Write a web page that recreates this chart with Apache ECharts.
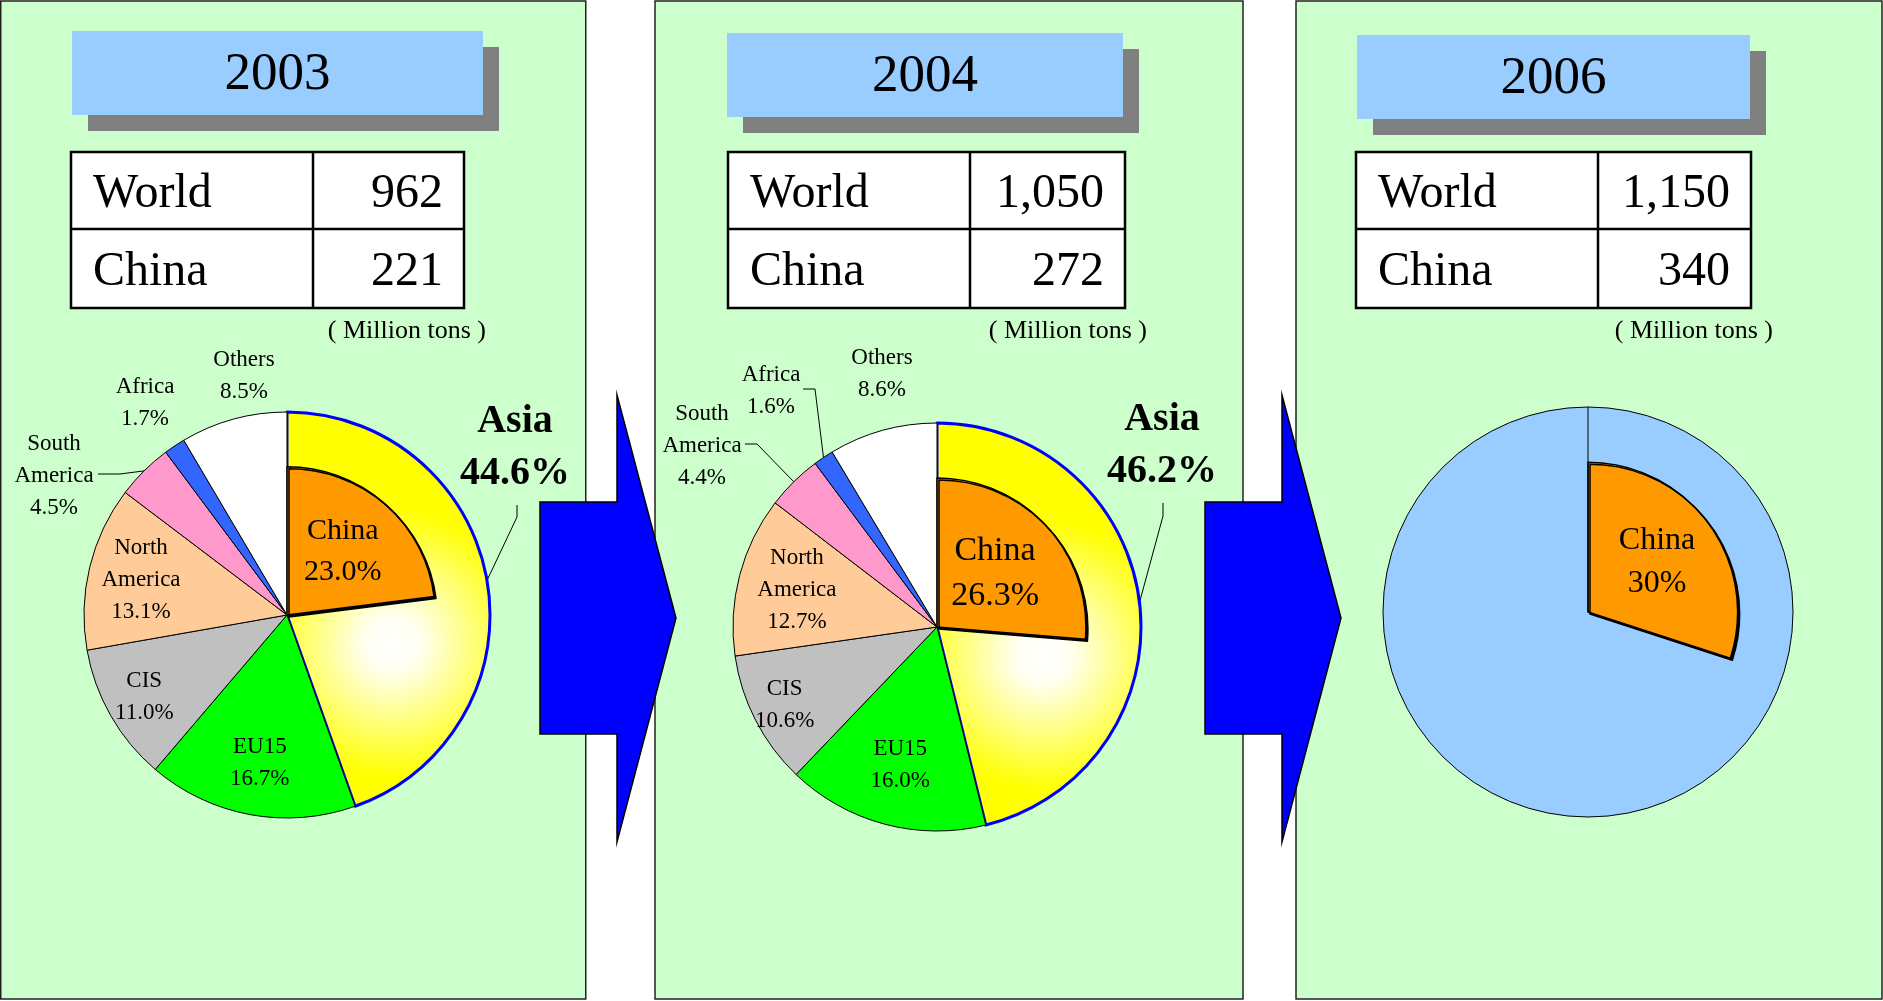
<!DOCTYPE html>
<html>
<head>
<meta charset="utf-8">
<title>Crude steel production</title>
<script src="https://cdn.jsdelivr.net/npm/echarts@6/dist/echarts.min.js"></script>
<style>
html, body { margin: 0; padding: 0; background: #fff; }
#main { width: 1883px; height: 1001px; }
</style>
</head>
<body>
<div id="main"></div>
<script>
// data
var years = ['2003', '2004', '2006'];
var worldOutput = [962, 1050, 1150];
var chinaOutput = [221, 272, 340];
var regions = ['Asia', 'EU15', 'CIS', 'North America', 'South America', 'Africa', 'Others'];
var share2003 = [44.6, 16.7, 11.0, 13.1, 4.5, 1.7, 8.5];
var share2004 = [46.2, 16.0, 10.6, 12.7, 4.4, 1.6, 8.6];
var chinaShare = [23.0, 26.3, 30];
var unitText = '( Million tons )';

var regionColors = ['#FFFF00', '#00FF00', '#C0C0C0', '#FFCC99', '#FF99CC', '#3366FF', '#FFFFFF'];
var FONT = '"Liberation Serif", "Times New Roman", serif';

// layout of the three panels (px)
var panels = [
    { x: 0.75, w: 585, box: [72, 31, 411], table: [71, 464, 313], pie: [287, 615, 203], chinaFont: 30, chinaR: 0.57 },
    { x: 655, w: 588, box: [727, 33, 396], table: [728, 1125, 970], pie: [937, 627, 204], chinaFont: 34, chinaR: 0.53 },
    { x: 1296, w: 586, box: [1357, 35, 393], table: [1356, 1751, 1598], pie: [1588, 612, 205], chinaFont: 32, chinaR: 0.57 }
];

// where each region label sits: r = fraction of radius at the slice middle, or dx/dy from the centre
var labelSpots = [
    {
        'Asia': { dx: 228, dy: -167, line: [[230, -110], [230, -98]] },
        'EU15': { r: 0.74 },
        'CIS': { r: 0.81 },
        'North America': { r: 0.74 },
        'South America': { dx: -233, dy: -139, line: [[-189, -141], [-167, -141]] },
        'Africa': { dx: -142, dy: -212 },
        'Others': { dx: -43, dy: -239 }
    },
    {
        'Asia': { dx: 225, dy: -181, line: [[226, -124], [226, -111]] },
        'EU15': { r: 0.70 },
        'CIS': { r: 0.84 },
        'North America': { r: 0.71 },
        'South America': { dx: -235, dy: -181, line: [[-192, -183], [-180, -183]] },
        'Africa': { dx: -166, dy: -236, line: [[-134, -238], [-122, -238]] },
        'Others': { dx: -55, dy: -253 }
    }
];

function midAngles(values) {
    var total = 0, acc = 0, mids = [];
    values.forEach(function (v) { total += v; });
    values.forEach(function (v) {
        mids.push((acc + v / 2) / total * Math.PI * 2);
        acc += v;
    });
    return mids;
}

function regionLayout(p, spots, values) {
    var mids = midAngles(values);
    var cx = p.pie[0], cy = p.pie[1], R = p.pie[2];
    return function (params) {
        var s = spots[regions[params.dataIndex]];
        var a = mids[params.dataIndex];
        var out = { align: 'center', verticalAlign: 'middle' };
        if (s.r) {
            out.x = cx + s.r * R * Math.sin(a);
            out.y = cy - s.r * R * Math.cos(a);
        } else {
            out.x = cx + s.dx;
            out.y = cy + s.dy;
        }
        if (s.line) {
            out.labelLinePoints = [
                [cx + s.line[0][0], cy + s.line[0][1]],
                [cx + s.line[1][0], cy + s.line[1][1]],
                [cx + R * Math.sin(a), cy - R * Math.cos(a)]
            ];
        }
        return out;
    };
}

function regionSeries(i, values) {
    var p = panels[i];
    var cx = p.pie[0], cy = p.pie[1], R = p.pie[2];
    var spots = labelSpots[i];
    var data = regions.map(function (name, k) {
        var item = {
            name: name,
            value: values[k],
            itemStyle: { color: regionColors[k], borderColor: '#000', borderWidth: 1 },
            labelLine: { show: !!spots[name].line }
        };
        if (name === 'Asia') {
            item.itemStyle = {
                color: {
                    type: 'radial', global: true,
                    x: cx + 0.52 * R, y: cy + 0.14 * R, r: 0.66 * R,
                    colorStops: [
                        { offset: 0, color: '#FFFFFF' },
                        { offset: 0.2, color: '#FFFFF2' },
                        { offset: 1, color: '#FFFF00' }
                    ]
                },
                borderColor: '#0000FF',
                borderWidth: 3
            };
            item.label = { fontSize: 40, fontWeight: 'bold', lineHeight: 52 };
        }
        return item;
    });
    return {
        type: 'pie',
        center: [cx, cy],
        radius: R,
        startAngle: 90,
        silent: true,
        avoidLabelOverlap: false,
        data: data,
        label: {
            show: true,
            position: 'outside',
            color: '#000',
            fontFamily: FONT,
            fontSize: 23,
            lineHeight: 32,
            formatter: function (prm) {
                return prm.name.replace(' ', '\n') + '\n' + prm.value.toFixed(1) + '%';
            }
        },
        labelLine: { show: false, lineStyle: { color: '#000', width: 1 } },
        labelLayout: regionLayout(p, spots, values),
        emphasis: { disabled: true }
    };
}

function chinaSeries(i) {
    var p = panels[i];
    var cx = p.pie[0], cy = p.pie[1], R = p.pie[2];
    var r = 0.73 * R;
    var share = chinaShare[i];
    var mid = share / 100 * Math.PI;
    return {
        type: 'pie',
        center: [cx, cy],
        radius: r,
        startAngle: 90,
        silent: true,
        z: 3,
        data: [
            {
                name: 'China', value: share,
                itemStyle: {
                    color: '#FF9900', borderColor: '#000', borderWidth: 1.5,
                    shadowColor: '#000', shadowOffsetX: 2, shadowOffsetY: 2, shadowBlur: 0
                }
            },
            { name: 'rest', value: 100 - share, itemStyle: { color: 'rgba(0,0,0,0)', borderWidth: 0 }, label: { show: false } }
        ],
        label: {
            show: true,
            position: 'inside',
            color: '#000',
            fontFamily: FONT,
            fontSize: p.chinaFont,
            lineHeight: p.chinaFont + 11,
            textBorderWidth: 0,
            formatter: function (prm) {
                var v = i < 2 ? prm.value.toFixed(1) : String(prm.value);
                return prm.name + '\n' + v + '%';
            }
        },
        labelLine: { show: false },
        labelLayout: function () {
            return {
                x: cx + p.chinaR * r * Math.sin(mid),
                y: cy - p.chinaR * r * Math.cos(mid),
                align: 'center', verticalAlign: 'middle'
            };
        },
        emphasis: { disabled: true }
    };
}

var series = [
    regionSeries(0, share2003),
    chinaSeries(0),
    regionSeries(1, share2004),
    chinaSeries(1),
    {
        type: 'pie',
        center: [panels[2].pie[0], panels[2].pie[1]],
        radius: panels[2].pie[2],
        silent: true,
        data: [{ name: 'World', value: 100 }],
        itemStyle: { color: '#99CCFF', borderColor: '#000', borderWidth: 1 },
        label: { show: false },
        labelLine: { show: false },
        emphasis: { disabled: true }
    },
    chinaSeries(2)
];

// panels, headers, tables, arrows
var graphics = [];
var tableTop = 152, tableMid = 229, tableBottom = 308;
panels.forEach(function (p, i) {
    graphics.push({
        type: 'rect', z: -1,
        shape: { x: p.x, y: 1, width: p.w, height: 998 },
        style: { fill: '#CCFFCC', stroke: '#222', lineWidth: 1.5 }
    });
    var bx = p.box[0], by = p.box[1], bw = p.box[2];
    graphics.push({
        type: 'rect', z: 1,
        shape: { x: bx + 16, y: by + 16, width: bw, height: 84 },
        style: { fill: '#808080' }
    });
    graphics.push({
        type: 'rect', z: 1,
        shape: { x: bx, y: by, width: bw, height: 84 },
        style: { fill: '#99CCFF' }
    });
    graphics.push({
        type: 'text', z: 2,
        style: {
            x: bx + bw / 2, y: by + 44, text: years[i],
            font: '53px ' + FONT, fill: '#000', textAlign: 'center', textVerticalAlign: 'middle'
        }
    });
    var tl = p.table[0], tr = p.table[1], tc = p.table[2];
    graphics.push({
        type: 'rect', z: 1,
        shape: { x: tl, y: tableTop, width: tr - tl, height: tableBottom - tableTop },
        style: { fill: '#FFFFFF', stroke: '#000', lineWidth: 2.5 }
    });
    graphics.push({
        type: 'line', z: 1,
        shape: { x1: tl, y1: tableMid, x2: tr, y2: tableMid },
        style: { stroke: '#000', lineWidth: 2.5 }
    });
    graphics.push({
        type: 'line', z: 1,
        shape: { x1: tc, y1: tableTop, x2: tc, y2: tableBottom },
        style: { stroke: '#000', lineWidth: 2.5 }
    });
    var rows = [['World', worldOutput[i]], ['China', chinaOutput[i]]];
    rows.forEach(function (row, k) {
        var yMid = k === 0 ? (tableTop + tableMid) / 2 : (tableMid + tableBottom) / 2;
        graphics.push({
            type: 'text', z: 2,
            style: {
                x: tl + 22, y: yMid + 4, text: row[0],
                font: '48px ' + FONT, fill: '#000', textAlign: 'left', textVerticalAlign: 'middle'
            }
        });
        graphics.push({
            type: 'text', z: 2,
            style: {
                x: tr - 21, y: yMid + 4, text: row[1].toLocaleString('en-US'),
                font: '48px ' + FONT, fill: '#000', textAlign: 'right', textVerticalAlign: 'middle'
            }
        });
    });
    graphics.push({
        type: 'text', z: 2,
        style: {
            x: tr + 22, y: 331, text: unitText,
            font: '26px ' + FONT, fill: '#000', textAlign: 'right', textVerticalAlign: 'middle'
        }
    });
});

// the start line of the 2006 pie
graphics.push({
    type: 'line', z: 5,
    shape: { x1: panels[2].pie[0], y1: panels[2].pie[1], x2: panels[2].pie[0], y2: panels[2].pie[1] - panels[2].pie[2] },
    style: { stroke: '#000', lineWidth: 1 }
});

var arrows = [[540, 617, 676], [1205, 1282, 1341]];
arrows.forEach(function (a) {
    graphics.push({
        type: 'polygon', z: 10,
        shape: {
            points: [[a[0], 502], [a[1], 502], [a[1], 395], [a[2], 618], [a[1], 842], [a[1], 734], [a[0], 734]]
        },
        style: { fill: '#0000FF', stroke: '#000', lineWidth: 1.5 }
    });
});

var chart = echarts.init(document.getElementById('main'), null, { renderer: 'canvas' });
chart.setOption({
    backgroundColor: '#FFFFFF',
    animation: false,
    graphic: { elements: graphics },
    series: series
});
</script>
</body>
</html>
